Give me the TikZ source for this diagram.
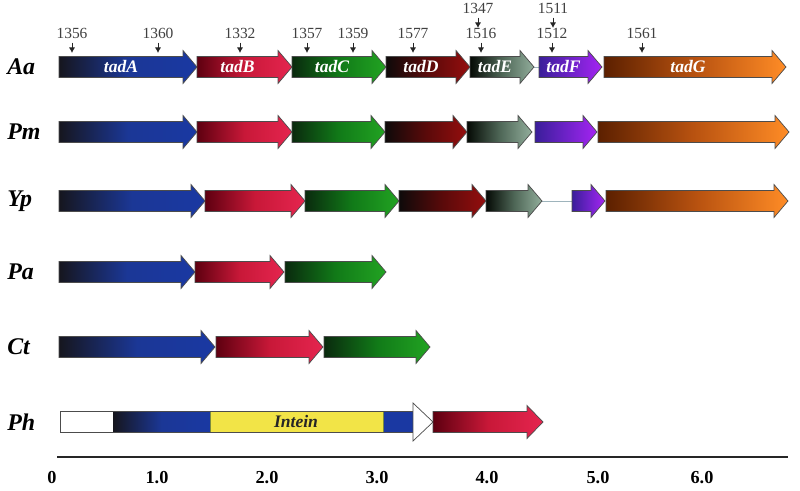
\documentclass[tikz,border=0pt]{standalone}
\usepackage{fontspec}
\setmainfont{Liberation Serif}
\usetikzlibrary{positioning,arrows.meta}

\definecolor{AL}{HTML}{16161E}\definecolor{AM}{HTML}{1B3796}\definecolor{AR}{HTML}{1A38A2}
\definecolor{BL}{HTML}{5E0010}\definecolor{BM}{HTML}{C81838}\definecolor{BR}{HTML}{E5254F}
\definecolor{CL}{HTML}{0A2A0E}\definecolor{CM}{HTML}{117A18}\definecolor{CR}{HTML}{22A322}
\definecolor{DL}{HTML}{0E0A0A}\definecolor{DM}{HTML}{5A0A0A}\definecolor{DR}{HTML}{950E0E}
\definecolor{EL}{HTML}{050A05}\definecolor{EM}{HTML}{4E6656}\definecolor{ER}{HTML}{92AE9C}
\definecolor{FL}{HTML}{3A1E9A}\definecolor{FM}{HTML}{6E22C8}\definecolor{FR}{HTML}{A524F2}
\definecolor{GL}{HTML}{5C2000}\definecolor{GM}{HTML}{B85210}\definecolor{GR}{HTML}{FF8C26}
\definecolor{spacer}{HTML}{9EB4BC}
\definecolor{intein}{HTML}{F2E447}
\definecolor{inteinedge}{HTML}{7A8A40}

\begin{document}
\begin{tikzpicture}[x=0.025cm, y=-0.025cm,
    gene/.style={draw=black!70, line width=0.5pt},
    species/.style={anchor=west, inner sep=0pt, font=\fontsize{17}{17}\selectfont\bfseries\itshape},
    genename/.style={text=white, inner sep=0pt, font=\fontsize{12.5}{12.5}\selectfont\bfseries\itshape},
    sitelabel/.style={inner sep=0pt, text=black!75, font=\fontsize{11}{11}\selectfont},
    sitearrow/.style={line width=0.7pt, black!85, shorten <=3pt, -{Latex[length=4pt,width=4.5pt]}},
    ticklabel/.style={inner sep=0pt, font=\fontsize{13}{13}\selectfont\bfseries}
]
\useasboundingbox (0,0) rectangle (800,491);

% species names
\foreach \ry/\sp in {67/Aa,132/Pm,201/Yp,272/Pa,347/Ct,422/Ph}
  \node[species] (sp\sp) at (7,\ry) {\sp};

% spacer lines
\draw[spacer, line width=0.6pt] (534,67) -- (539,67);
\draw[spacer, line width=0.6pt] (542,201) -- (572,201);

% gene arrows, row by row
\foreach \ry/\genes in {
    67/{59/197/A,197/292/B,292/386/C,386/470/D,470/534/E,539/602/F,604/786/G},
    132/{59/197/A,197/292/B,292/385/C,385/467/D,467/532/E,535/597/F,598/789/G},
    201/{59/205/A,205/305/B,305/399/C,399/486/D,486/542/E,572/605/F,606/788/G},
    272/{59/195/A,195/284/B,285/386/C},
    347/{59/215/A,216/323/B,324/430/C}}
  \foreach \xa/\xb/\gn in \genes
    \shade[gene, left color=\gn L, right color=\gn R, middle color=\gn M]
      (\xa,\ry-10.5) -- (\xb-14,\ry-10.5) -- (\xb-14,\ry-16.5) -- (\xb,\ry)
      -- (\xb-14,\ry+16.5) -- (\xb-14,\ry+10.5) -- (\xa,\ry+10.5) -- cycle;

% gene names
\foreach \xa/\xb/\gn in {59/197/A,197/292/B,292/386/C,386/470/D,470/534/E,539/602/F,604/786/G}
  \node[genename] (tad\gn) at ({(\xa+\xb-14)/2},66) {tad\gn};

% Ph row
\fill[white] (60,411.5) rectangle (113,432.5);
\shade[left color=AL, right color=AR, middle color=AM] (113,411.5) rectangle (210,432.5);
\fill[AR] (383,411.5) rectangle (413,432.5);
\draw[inteinedge, fill=intein, line width=0.6pt] (210,411.5) rectangle (383,432.5);
\node[genename, text=black!85] (intein) at (296,421) {Intein};
\draw[gene, fill=white] (413,411.5) -- (413,403) -- (433,422) -- (413,441) -- (413,432.5) -- cycle;
\draw[gene] (60,411.5) -- (413,411.5) (60,432.5) -- (413,432.5) (60,411.5) -- (60,432.5);
\shade[gene, left color=BL, right color=BR, middle color=BM]
  (433,411.5) -- (527,411.5) -- (527,405.5) -- (543,422)
  -- (527,438.5) -- (527,432.5) -- (433,432.5) -- cycle;

% mutation sites
\foreach \x/\lab in {72/1356,158/1360,240/1332,307/1357,353/1359,413/1577,481/1516,552/1512,642/1561} {
  \node[sitelabel] (s\lab) at (\x,33) {\lab};
  \coordinate (p\lab) at (\x,53);
  \draw[sitearrow] (s\lab.south) -- (p\lab);
}
\node[sitelabel] (s1347) at (478,8) {1347};
\node[sitelabel] (s1511) at (553,8) {1511};
\coordinate (p1347) at (478,28);
\coordinate (p1511) at (553,28);
\draw[sitearrow] (s1347.south) -- (p1347);
\draw[sitearrow] (s1511.south) -- (p1511);

% scale
\coordinate (axisL) at (57,457);
\coordinate (axisR) at (788,457);
\draw[line width=1.3pt, black!85] (axisL) -- (axisR);
\foreach \x/\t [count=\i] in {52/0,157/1.0,267/2.0,377/3.0,487/4.0,598/5.0,702/6.0}
  \node[ticklabel] (tick\i) at (\x,478) {\t};
\end{tikzpicture}
\end{document}
